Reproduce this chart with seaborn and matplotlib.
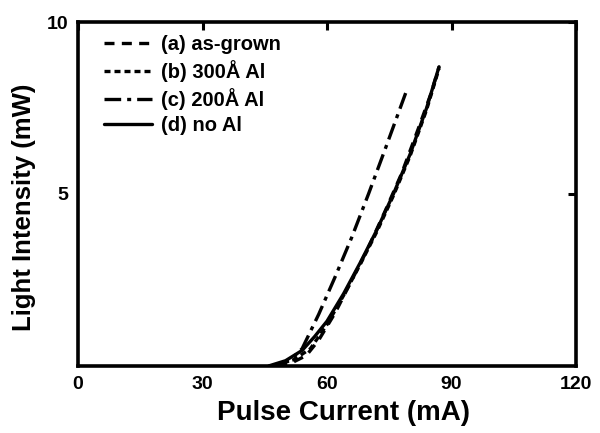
import pandas as pd
import matplotlib
matplotlib.use("Agg")
import matplotlib.pyplot as plt
import seaborn as sns

# ── Data ───────────────────────────────────────────────────────────────────
current_a = [48, 52, 55, 58, 62, 66, 70, 74, 78, 82, 85, 87]
light_a = [0.0, 0.12, 0.3, 0.75, 1.55, 2.5, 3.45, 4.5, 5.6, 6.9, 7.9, 8.7]

current_b = [47, 52, 56, 60, 64, 68, 72, 76, 80, 84, 87]
light_b = [0.0, 0.18, 0.5, 1.2, 2.05, 2.95, 3.9, 4.95, 6.1, 7.45, 8.65]

current_c = [47, 51, 54, 58, 62, 66, 70, 74, 79]
light_c = [0.0, 0.15, 0.5, 1.5, 2.6, 3.75, 5.0, 6.3, 7.95]

current_d = [46, 50, 54, 57, 60, 64, 68, 72, 76, 80, 84, 87]
light_d = [0.0, 0.15, 0.45, 0.85, 1.3, 2.1, 3.0, 3.95, 5.0, 6.15, 7.5, 8.7]

labels = ["(a) as-grown", "(b) 300Å Al", "(c) 200Å Al", "(d) no Al"]

frames = []
for lab, xs, ys in zip(labels, [current_a, current_b, current_c, current_d],
                       [light_a, light_b, light_c, light_d]):
    frames.append(pd.DataFrame({"current": xs, "light": ys, "sample": lab}))
df = pd.concat(frames, ignore_index=True)

# ── Plot ────────────────────────────────────────────────────────────────────
sns.set_style("white")
plt.rcParams["font.family"] = ["Liberation Sans", "DejaVu Sans"]
plt.rcParams["font.weight"] = "bold"
plt.rcParams["text.color"] = "black"
plt.rcParams["axes.labelcolor"] = "black"
plt.rcParams["xtick.color"] = "black"
plt.rcParams["ytick.color"] = "black"

fig = plt.figure(figsize=(6, 4.33), dpi=100)
ax = fig.add_axes([0.13, 0.155, 0.83, 0.794])

dashes = {
    labels[0]: (3, 2.2),
    labels[1]: (1.8, 1.2),
    labels[2]: (5, 1.8, 1.2, 1.8),
    labels[3]: "",
}
sns.lineplot(data=df, x="current", y="light", style="sample", style_order=labels,
             dashes=dashes, color="black", linewidth=2.4, sort=False,
             estimator=None, ax=ax)

ax.set_xlim(0, 120)
ax.set_ylim(0, 10)
ax.set_xticks([0, 30, 60, 90, 120])
ax.set_yticks([5, 10])
ax.tick_params(direction="in", length=6, width=2.2, labelsize=14,
               top=True, right=True, pad=7)
for lab in ax.get_xticklabels() + ax.get_yticklabels():
    lab.set_fontweight("bold")
for sp in ax.spines.values():
    sp.set_linewidth(2.6)
    sp.set_color("black")

ax.set_xlabel("Pulse Current (mA)", fontsize=20, fontweight="bold")
ax.set_ylabel("Light Intensity (mW)", fontsize=18.5, fontweight="bold")
ax.xaxis.set_label_coords(0.534, -0.1)
ax.yaxis.set_label_coords(-0.085, 0.46)

leg = ax.legend(loc="upper left", frameon=False, handlelength=2.4,
                handletextpad=0.45, labelspacing=0.3, fontsize=14.5,
                bbox_to_anchor=(0.015, 1.015))
for t in leg.get_texts():
    t.set_fontweight("bold")
for h in leg.get_lines():
    h.set_linewidth(2.4)

fig.savefig("out.png", dpi=100)
